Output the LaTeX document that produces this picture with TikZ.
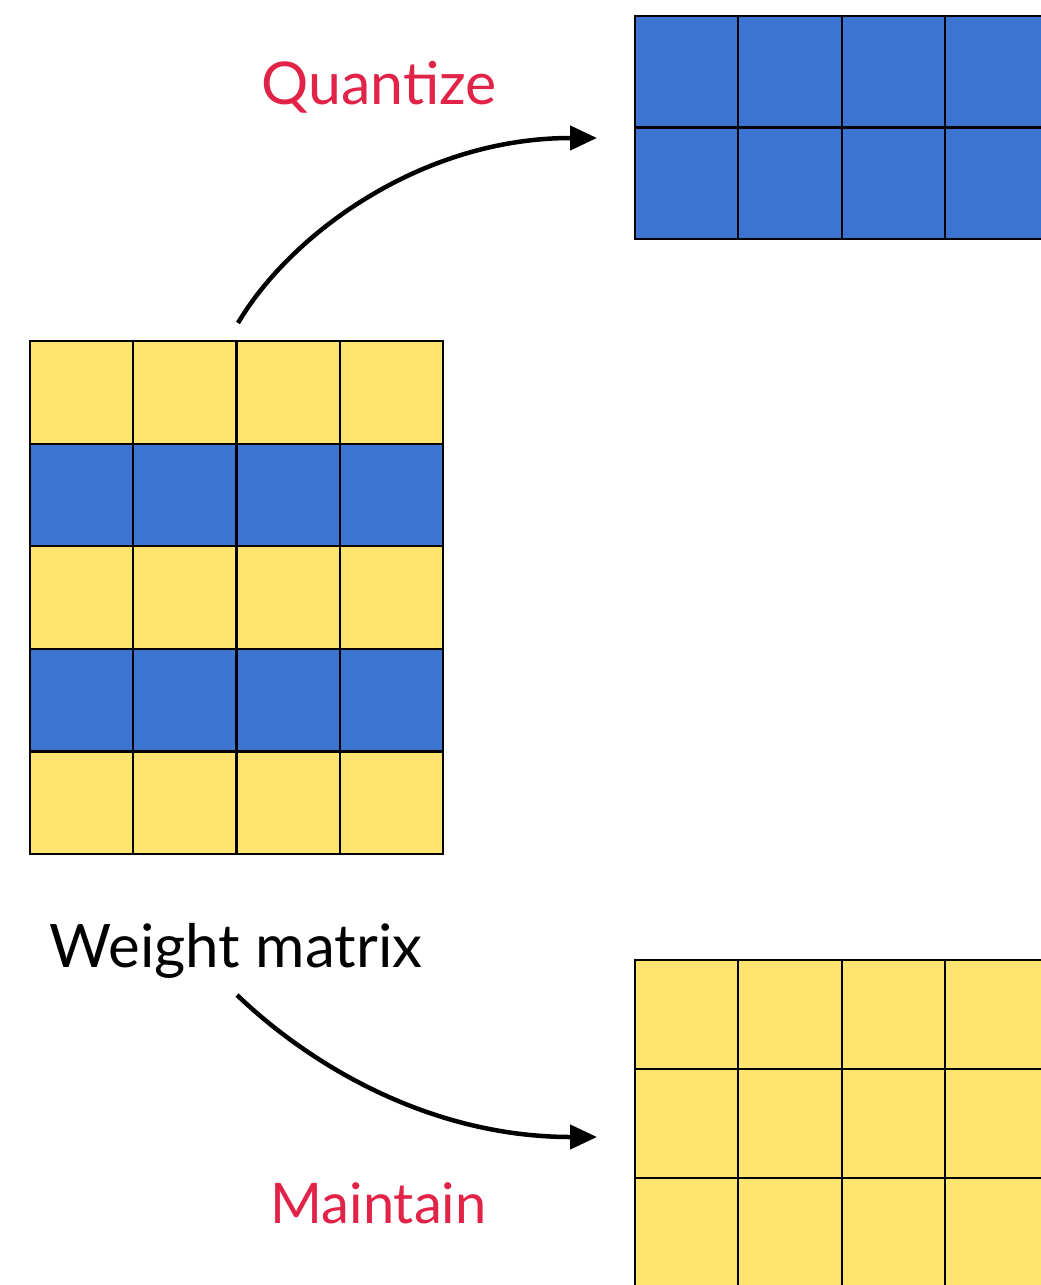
\documentclass[tikz,border=0pt]{standalone}
\usepackage{fontspec}
\setmainfont{Lato}
\usetikzlibrary{arrows.meta}

\definecolor{cellblue}{RGB}{61,117,211}
\definecolor{cellyellow}{RGB}{255,228,112}
\definecolor{labelred}{RGB}{226,35,72}

\tikzset{
  cell/.style={draw=black, line width=2.2pt, inner sep=0pt, outer sep=0pt,
               minimum width=103.3pt},
  bluecell/.style={cell, fill=cellblue},
  yellowcell/.style={cell, fill=cellyellow},
  flow/.style={line width=4.5pt, -{Triangle[length=27pt,width=24pt]}},
  caption/.style={inner sep=0pt, anchor=base},
}

\begin{document}
\begin{tikzpicture}[x=1pt,y=-1pt]
  \path[use as bounding box] (0,0) rectangle (1041,1285);
  \clip (0,0) rectangle (1041,1285);
  \fill[white] (0,0) rectangle (1041,1285);

  % weight matrix: 5 rows x 4 columns, alternating yellow / blue rows
  \foreach \r in {0,...,4}{
    \foreach \c in {0,...,3}{
      \pgfmathsetmacro{\isblue}{mod(\r,2)}
      \ifdim\isblue pt>0.5pt
        \node[bluecell, minimum height=102.6pt] (w-\r-\c)
          at ({30+103.25*(\c+0.5)},{341+102.6*(\r+0.5)}) {};
      \else
        \node[yellowcell, minimum height=102.6pt] (w-\r-\c)
          at ({30+103.25*(\c+0.5)},{341+102.6*(\r+0.5)}) {};
      \fi
    }
  }

  % quantized rows (blue)
  \foreach \r in {0,1}{
    \foreach \c in {0,...,3}{
      \node[bluecell, minimum height=111.5pt] (q-\r-\c)
        at ({635+103.3*(\c+0.5)},{16+111.5*(\r+0.5)}) {};
    }
  }

  % maintained rows (yellow)
  \foreach \r in {0,1,2}{
    \foreach \c in {0,...,3}{
      \node[yellowcell, minimum height=109pt] (m-\r-\c)
        at ({635+103.3*(\c+0.5)},{960+109*(\r+0.5)}) {};
    }
  }

  % captions
  \node[caption, text=labelred, font=\fontsize{59}{66}\selectfont] (quant) at (379,104) {Quantize};
  \node[caption, font=\fontsize{60}{70}\selectfont] (weight) at (236,967) {Weight matrix};
  \node[caption, text=labelred, font=\fontsize{56}{66}\selectfont] (maint) at (378.5,1223) {Maintain};

  % connector end points
  \coordinate (qfrom) at (238,323);
  \coordinate (qto) at (597,138);
  \coordinate (mfrom) at (237,995);
  \coordinate (mto) at (597,1137);

  \draw[flow] (qfrom) .. controls (290,235) and (420,138) .. (qto);
  \draw[flow] (mfrom) .. controls (310,1065) and (430,1137) .. (mto);
\end{tikzpicture}
\end{document}
